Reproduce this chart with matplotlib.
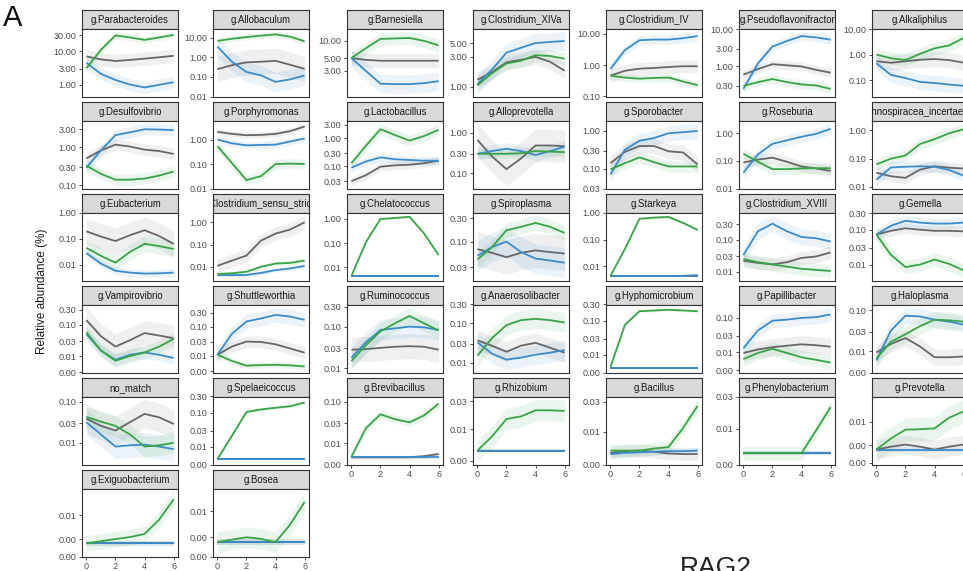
import numpy as np
import matplotlib.pyplot as plt
from matplotlib.ticker import NullLocator

plt.rcParams["font.family"] = ["Liberation Sans", "DejaVu Sans"]

# Sampling days (x axis)
days = [0, 1, 2, 3, 4, 5, 6]

genus_names = [
    "g.Parabacteroides", "g.Allobaculum", "g.Barnesiella", "g.Clostridium_XIVa",
    "g.Clostridium_IV", "g.Pseudoflavonifractor", "g.Alkaliphilus",
    "g.Desulfovibrio", "g.Porphyromonas", "g.Lactobacillus", "g.Alloprevotella",
    "g.Sporobacter", "g.Roseburia", "g.Lachnospiracea_incertae_sedis",
    "g.Eubacterium", "g.Clostridium_sensu_stricto", "g.Chelatococcus", "g.Spiroplasma",
    "g.Starkeya", "g.Clostridium_XVIII", "g.Gemella",
    "g.Vampirovibrio", "g.Shuttleworthia", "g.Ruminococcus", "g.Anaerosolibacter",
    "g.Hyphomicrobium", "g.Papillibacter", "g.Haloplasma",
    "no_match", "g.Spelaeicoccus", "g.Brevibacillus", "g.Rhizobium",
    "g.Bacillus", "g.Phenylobacterium", "g.Prevotella",
    "g.Exiguobacterium", "g.Bosea",
]

y_breaks = [
    [1, 3, 10, 30], [0.01, 0.1, 1, 10], [3, 5, 10], [1, 3, 5],
    [0.1, 1, 10], [0.3, 1, 3, 10], [0.1, 1, 10],
    [0.1, 0.3, 1, 3], [0.01, 0.1, 1], [0.03, 0.1, 0.3, 1, 3], [0.1, 0.3, 1],
    [0.03, 0.1, 0.3, 1], [0.01, 0.1, 1], [0.01, 0.1, 1],
    [0.01, 0.1, 1], [0.01, 0.1, 1], [0.01, 0.1, 1], [0.03, 0.1, 0.3],
    [0.01, 0.1, 1], [0.01, 0.03, 0.1, 0.3], [0.01, 0.03, 0.1, 0.3],
    [0.003, 0.01, 0.03, 0.1, 0.3], [0.003, 0.01, 0.03, 0.1, 0.3],
    [0.01, 0.03, 0.1, 0.3], [0.01, 0.03, 0.1, 0.3],
    [0.003, 0.01, 0.03, 0.1, 0.3], [0.003, 0.01, 0.03, 0.1], [0.003, 0.01, 0.03, 0.1],
    [0.01, 0.03, 0.1], [0.003, 0.01, 0.03, 0.1, 0.3], [0.003, 0.01, 0.03, 0.1],
    [0.003, 0.01, 0.03], [0.003, 0.01, 0.03], [0.003, 0.01, 0.03],
    [0.003, 0.005, 0.01],
    [0.003, 0.005, 0.01], [0.003, 0.005, 0.01],
]

green_vals = [
    [3.1, 11, 30, 26, 22, 26, 31],
    [7, 9, 11, 13, 15, 11.5, 6.7],
    [5.0, 7.4, 10.7, 10.9, 11.1, 9.9, 8.3],
    [1.05, 1.64, 2.35, 2.6, 3.2, 3.1, 2.8],
    [0.46, 0.4, 0.37, 0.39, 0.4, 0.3, 0.23],
    [0.3, 0.38, 0.46, 0.38, 0.33, 0.31, 0.25],
    [1.0, 0.72, 0.61, 1.07, 1.76, 2.3, 4.5],
    [0.33, 0.2, 0.14, 0.14, 0.15, 0.18, 0.23],
    [0.54, 0.11, 0.022, 0.032, 0.1, 0.104, 0.1],
    [0.13, 0.54, 2.1, 1.3, 0.83, 1.2, 2.0],
    [0.3, 0.3, 0.3, 0.31, 0.35, 0.34, 0.33],
    [0.096, 0.14, 0.2, 0.15, 0.115, 0.115, 0.115],
    [0.18, 0.092, 0.05, 0.05, 0.053, 0.054, 0.054],
    [0.063, 0.1, 0.13, 0.33, 0.49, 0.79, 1.1],
    [0.044, 0.022, 0.012, 0.031, 0.063, 0.052, 0.04],
    [0.0047, 0.0051, 0.006, 0.01, 0.014, 0.015, 0.019],
    [0.0043, 0.11, 1.0, 1.1, 1.23, 0.25, 0.032],
    [0.043, 0.077, 0.17, 0.2, 0.24, 0.2, 0.15],
    [0.0044, 0.045, 0.6, 0.66, 0.7, 0.42, 0.23],
    [0.025, 0.02, 0.017, 0.0145, 0.0125, 0.0115, 0.0107],
    [0.073, 0.019, 0.0085, 0.01, 0.014, 0.0105, 0.0068],
    [0.057, 0.015, 0.0071, 0.01, 0.013, 0.02, 0.035],
    [0.011, 0.0068, 0.0047, 0.0049, 0.005, 0.0048, 0.0044],
    [0.015, 0.036, 0.077, 0.12, 0.18, 0.12, 0.081],
    [0.015, 0.042, 0.09, 0.12, 0.13, 0.12, 0.105],
    [0.0042, 0.076, 0.19, 0.2, 0.21, 0.2, 0.19],
    [0.0063, 0.0095, 0.0126, 0.0095, 0.0071, 0.006, 0.005],
    [0.0066, 0.017, 0.026, 0.041, 0.059, 0.057, 0.053],
    [0.043, 0.033, 0.026, 0.016, 0.0081, 0.0087, 0.01],
    [0.0043, 0.021, 0.105, 0.125, 0.14, 0.155, 0.2],
    [0.0046, 0.023, 0.05, 0.038, 0.032, 0.047, 0.091],
    [0.0044, 0.0076, 0.015, 0.0166, 0.021, 0.021, 0.0205],
    [0.005, 0.005, 0.005, 0.0054, 0.0057, 0.0115, 0.026],
    [0.0044, 0.0044, 0.0044, 0.0044, 0.0044, 0.0095, 0.021],
    [0.0044, 0.0061, 0.0079, 0.008, 0.0082, 0.0112, 0.0135],
    [0.0044, 0.0047, 0.005, 0.0053, 0.0058, 0.0088, 0.016],
    [0.0044, 0.0047, 0.005, 0.0048, 0.0044, 0.007, 0.0128],
]

blue_vals = [
    [4.5, 2.1, 1.37, 1.0, 0.82, 0.98, 1.18],
    [3.6, 0.6, 0.18, 0.12, 0.056, 0.075, 0.12],
    [5.0, 3.0, 1.81, 1.78, 1.78, 1.85, 2.0],
    [1.1, 1.87, 3.5, 4.2, 5.0, 5.2, 5.4],
    [0.75, 3.0, 6.2, 6.5, 6.5, 7.2, 8.4],
    [0.25, 1.2, 3.4, 4.8, 6.5, 6.0, 5.2],
    [0.46, 0.16, 0.12, 0.085, 0.077, 0.067, 0.06],
    [0.29, 0.83, 2.1, 2.5, 3.0, 2.95, 2.85],
    [1.0, 0.7, 0.58, 0.6, 0.62, 0.83, 1.1],
    [0.09, 0.15, 0.21, 0.18, 0.17, 0.16, 0.16],
    [0.3, 0.35, 0.4, 0.35, 0.28, 0.35, 0.45],
    [0.07, 0.32, 0.55, 0.65, 0.87, 0.93, 1.0],
    [0.037, 0.17, 0.41, 0.55, 0.74, 0.94, 1.43],
    [0.018, 0.049, 0.052, 0.054, 0.052, 0.04, 0.025],
    [0.028, 0.011, 0.0059, 0.005, 0.0046, 0.0047, 0.005],
    [0.0043, 0.0042, 0.0043, 0.0053, 0.0071, 0.0084, 0.011],
    [0.0043, 0.0043, 0.0043, 0.0043, 0.0043, 0.0043, 0.0043],
    [0.051, 0.077, 0.1, 0.061, 0.045, 0.041, 0.037],
    [0.0044, 0.0044, 0.0044, 0.0044, 0.0044, 0.0045, 0.0048],
    [0.033, 0.18, 0.31, 0.18, 0.12, 0.11, 0.087],
    [0.073, 0.13, 0.18, 0.16, 0.15, 0.15, 0.16],
    [0.05, 0.015, 0.0076, 0.011, 0.013, 0.011, 0.0087],
    [0.011, 0.057, 0.15, 0.19, 0.25, 0.22, 0.17],
    [0.018, 0.042, 0.083, 0.091, 0.1, 0.096, 0.083],
    [0.033, 0.017, 0.012, 0.0135, 0.016, 0.018, 0.021],
    [0.0042, 0.0042, 0.0042, 0.0042, 0.0042, 0.0042, 0.0042],
    [0.013, 0.043, 0.083, 0.089, 0.1, 0.105, 0.126],
    [0.0059, 0.032, 0.074, 0.071, 0.059, 0.053, 0.045],
    [0.032, 0.016, 0.0081, 0.0087, 0.009, 0.0081, 0.007],
    [0.0043, 0.0043, 0.0043, 0.0043, 0.0043, 0.0043, 0.0043],
    [0.0045, 0.0045, 0.0045, 0.0045, 0.0045, 0.0045, 0.0045],
    [0.0044, 0.0044, 0.0044, 0.0044, 0.0044, 0.0044, 0.0044],
    [0.0044, 0.0046, 0.0047, 0.0048, 0.0049, 0.0049, 0.005],
    [0.0044, 0.0044, 0.0044, 0.0044, 0.0044, 0.0044, 0.0044],
    [0.0044, 0.0044, 0.0044, 0.0044, 0.0044, 0.0044, 0.0044],
    [0.0044, 0.0044, 0.0044, 0.0044, 0.0044, 0.0044, 0.0044],
    [0.0044, 0.0044, 0.0044, 0.0044, 0.0044, 0.0044, 0.0044],
]

grey_vals = [
    [7, 5.7, 5.1, 5.5, 6.0, 6.6, 7.3],
    [0.25, 0.4, 0.56, 0.6, 0.67, 0.42, 0.26],
    [5.0, 4.66, 4.5, 4.5, 4.5, 4.5, 4.5],
    [1.29, 1.71, 2.45, 2.7, 3.0, 2.5, 1.8],
    [0.46, 0.66, 0.77, 0.81, 0.87, 0.92, 0.92],
    [0.6, 0.85, 1.15, 1.07, 1.0, 0.81, 0.68],
    [0.55, 0.48, 0.55, 0.63, 0.67, 0.61, 0.48],
    [0.51, 0.83, 1.18, 1.05, 0.87, 0.8, 0.67],
    [2.06, 1.7, 1.5, 1.55, 1.7, 2.2, 3.4],
    [0.03, 0.049, 0.098, 0.11, 0.115, 0.13, 0.16],
    [0.66, 0.26, 0.126, 0.23, 0.48, 0.48, 0.46],
    [0.14, 0.28, 0.4, 0.4, 0.29, 0.27, 0.13],
    [0.087, 0.11, 0.13, 0.092, 0.062, 0.053, 0.043],
    [0.032, 0.024, 0.021, 0.041, 0.054, 0.048, 0.045],
    [0.19, 0.12, 0.081, 0.135, 0.21, 0.126, 0.063],
    [0.011, 0.019, 0.032, 0.15, 0.31, 0.47, 1.0],
    [0.0043, 0.0043, 0.0043, 0.0043, 0.0043, 0.0043, 0.0043],
    [0.07, 0.059, 0.048, 0.059, 0.066, 0.061, 0.057],
    [0.0044, 0.0044, 0.0044, 0.0044, 0.0044, 0.0044, 0.0044],
    [0.022, 0.019, 0.017, 0.02, 0.027, 0.03, 0.04],
    [0.073, 0.093, 0.11, 0.1, 0.093, 0.093, 0.09],
    [0.14, 0.043, 0.02, 0.032, 0.054, 0.045, 0.037],
    [0.011, 0.021, 0.031, 0.03, 0.025, 0.018, 0.013],
    [0.028, 0.029, 0.031, 0.033, 0.034, 0.033, 0.028],
    [0.037, 0.027, 0.019, 0.027, 0.032, 0.024, 0.018],
    [0.0042, 0.0042, 0.0042, 0.0042, 0.0042, 0.0042, 0.0042],
    [0.0095, 0.012, 0.014, 0.0155, 0.017, 0.016, 0.0145],
    [0.0093, 0.015, 0.021, 0.013, 0.0071, 0.0071, 0.0074],
    [0.039, 0.026, 0.02, 0.032, 0.051, 0.042, 0.029],
    [0.0043, 0.0043, 0.0043, 0.0043, 0.0043, 0.0043, 0.0043],
    [0.0045, 0.0045, 0.0045, 0.0045, 0.0045, 0.0048, 0.0054],
    [0.0044, 0.0044, 0.0044, 0.0044, 0.0044, 0.0044, 0.0044],
    [0.0046, 0.0049, 0.005, 0.0048, 0.0045, 0.0044, 0.0044],
    [0.0044, 0.0044, 0.0044, 0.0044, 0.0044, 0.0044, 0.0044],
    [0.0044, 0.0048, 0.0051, 0.0048, 0.0044, 0.0048, 0.0051],
    [0.0044, 0.0044, 0.0044, 0.0044, 0.0044, 0.0044, 0.0044],
    [0.0044, 0.0044, 0.0044, 0.0044, 0.0044, 0.0044, 0.0044],
]

# Half width of the confidence band, in decades (log10 units)
green_band = [0.1, 0.15, 0.11, 0.1, 0.12, 0.12, 0.25, 0.15, 0.2, 0.2, 0.12, 0.15,
              0.2, 0.2, 0.3, 0.1, 0.05, 0.15, 0.05, 0.2, 0.2, 0.2, 0.1, 0.2, 0.25,
              0.04, 0.2, 0.2, 0.25, 0.05, 0.1, 0.18, 0.1, 0.1, 0.15, 0.1, 0.12]
blue_band = [0.18, 0.5, 0.16, 0.15, 0.15, 0.12, 0.3, 0.15, 0.15, 0.15, 0.15, 0.2,
             0.2, 0.2, 0.15, 0.1, 0.03, 0.3, 0.03, 0.25, 0.15, 0.2, 0.25, 0.25, 0.25,
             0.03, 0.2, 0.2, 0.3, 0.03, 0.03, 0.03, 0.05, 0.03, 0.03, 0.03, 0.03]
grey_band = [0.2, 0.65, 0.12, 0.12, 0.2, 0.12, 0.3, 0.15, 0.12, 0.15, 0.4, 0.2,
             0.2, 0.2, 0.5, 0.3, 0.03, 0.35, 0.03, 0.2, 0.15, 0.4, 0.2, 0.3, 0.25,
             0.03, 0.25, 0.2, 0.35, 0.03, 0.05, 0.03, 0.1, 0.03, 0.12, 0.03, 0.03]

GREEN = "#38a447"
BLUE = "#3b8bcb"
GREY = "#676767"


def fmt_break(v):
    # two decimals, halves rounded down (0.005 -> "0.00")
    return "%.2f" % (np.floor(v * 100 + 0.5 - 1e-6) / 100)


W, H = 963, 571
fig = plt.figure(figsize=(W / 100, H / 100), dpi=100)

col_left = [82, 213, 347, 473, 606, 739, 872]
panel_w = 96
strip_h = 18.5
panel_h = 68
row_pitch = 92
first_top = 10

for i, name in enumerate(genus_names):
    row, col = i // 7, i % 7
    top = first_top + row * row_pitch
    x0 = col_left[col] / W

    # facet strip
    sax = fig.add_axes([x0, 1 - (top + strip_h) / H, panel_w / W, strip_h / H])
    sax.set_facecolor("#d9d9d9")
    sax.set_xticks([])
    sax.set_yticks([])
    for sp in sax.spines.values():
        sp.set_color("#333333")
        sp.set_linewidth(0.8)
    sax.text(0.5, 0.47, name, ha="center", va="center", fontsize=6.9,
             color="#1a1a1a", transform=sax.transAxes, clip_on=True)

    ax = fig.add_axes([x0, 1 - (top + strip_h + panel_h) / H, panel_w / W, panel_h / H])
    series = [
        (grey_vals[i], grey_band[i], GREY),
        (blue_vals[i], blue_band[i], BLUE),
        (green_vals[i], green_band[i], GREEN),
    ]
    for vals, band, c in series:
        v = np.array(vals)
        ax.fill_between(days, v / 10 ** band, v * 10 ** band, color=c,
                        alpha=0.1, linewidth=0)
    for vals, band, c in series:
        ax.plot(days, vals, color=c, lw=1.3, solid_capstyle="butt")

    ax.set_yscale("log")
    ax.set_xlim(-0.3, 6.3)
    ax.margins(y=0.05)
    ax.yaxis.set_minor_locator(NullLocator())
    ax.set_yticks(y_breaks[i])
    ax.set_yticklabels([fmt_break(b) for b in y_breaks[i]])
    ax.set_xticks([0, 2, 4, 6])
    show_x = i >= 30
    ax.tick_params(axis="both", length=2.5, width=0.6, color="#333333",
                   labelcolor="#4d4d4d", labelsize=6.6, pad=1.5)
    ax.tick_params(axis="x", bottom=show_x, labelbottom=show_x)
    for sp in ax.spines.values():
        sp.set_color("#333333")
        sp.set_linewidth(0.8)

fig.text(3 / W, 1 - 4 / H, "A", fontsize=21, ha="left", va="top", color="#111111")
fig.text(42 / W, 1 - 291 / H, "Relative abundance (%)", rotation=90,
         ha="center", va="center", fontsize=8.5, color="#1a1a1a")
fig.text(680 / W, 1 - 556 / H, "RAG2", fontsize=19, ha="left", va="top",
         color="#222222")

fig.savefig("out.png", dpi=100)
